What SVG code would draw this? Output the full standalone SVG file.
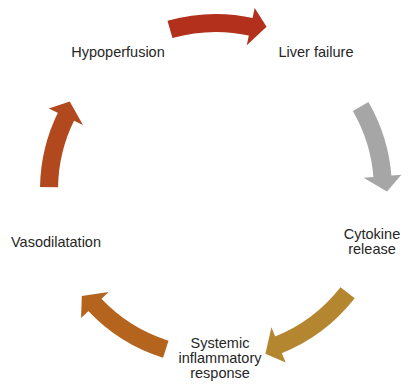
<svg xmlns="http://www.w3.org/2000/svg" width="410" height="384" viewBox="0 0 410 384">
  <style>
    .lbl { font-family: "Liberation Sans", Arial, sans-serif; font-size: 14.5px; fill: #262626; text-anchor: middle; }
    .shaft { fill: none; stroke-width: 18; stroke-linecap: butt; }
  </style>
  <defs>
    <polygon id="head" points="402,190 386.3,205.5 364,190"/>
  </defs>
  <rect width="410" height="384" fill="#ffffff"/>
  <g id="connectors">
    <g id="arrow-hypo-liver" fill="#b2301c" stroke="#b2301c">
      <circle class="shaft" cx="216" cy="190" r="167" pathLength="360" stroke-dasharray="28.5 400" transform="rotate(-106 216 190)"/>
      <use href="#head" stroke="none" transform="rotate(-78 216 190)"/>
    </g>
    <g id="arrow-liver-cytokine" fill="#a6a6a6" stroke="#a6a6a6">
      <circle class="shaft" cx="216" cy="190" r="167" pathLength="360" stroke-dasharray="25.8 400" transform="rotate(-30 216 190)"/>
      <use href="#head" stroke="none" transform="rotate(-4.7 216 190)"/>
    </g>
    <g id="arrow-cytokine-sirs" fill="#b3862f" stroke="#b3862f">
      <circle class="shaft" cx="216" cy="190" r="167" pathLength="360" stroke-dasharray="30.5 400" transform="rotate(38 216 190)"/>
      <use href="#head" stroke="none" transform="rotate(68 216 190)"/>
    </g>
    <g id="arrow-sirs-vaso" fill="#b4641d" stroke="#b4641d">
      <circle class="shaft" cx="216" cy="190" r="167" pathLength="360" stroke-dasharray="29.5 400" transform="rotate(107.5 216 190)"/>
      <use href="#head" stroke="none" transform="rotate(136.5 216 190)"/>
    </g>
    <g id="arrow-vaso-hypo" fill="#b2481e" stroke="#b2481e">
      <circle class="shaft" cx="216" cy="190" r="167" pathLength="360" stroke-dasharray="25.5 400" transform="rotate(181 216 190)"/>
      <use href="#head" stroke="none" transform="rotate(206 216 190)"/>
    </g>
  </g>
  <g id="node-hypoperfusion"><text class="lbl" x="118" y="57">Hypoperfusion</text></g>
  <g id="node-liver-failure"><text class="lbl" x="316" y="57">Liver failure</text></g>
  <g id="node-cytokine-release"><text class="lbl" x="372" y="239">Cytokine</text><text class="lbl" x="372" y="254">release</text></g>
  <g id="node-systemic-inflammatory-response"><text class="lbl" x="220" y="348">Systemic</text><text class="lbl" x="220" y="363">inflammatory</text><text class="lbl" x="220" y="378">response</text></g>
  <g id="node-vasodilatation"><text class="lbl" x="56" y="247">Vasodilatation</text></g>
</svg>
